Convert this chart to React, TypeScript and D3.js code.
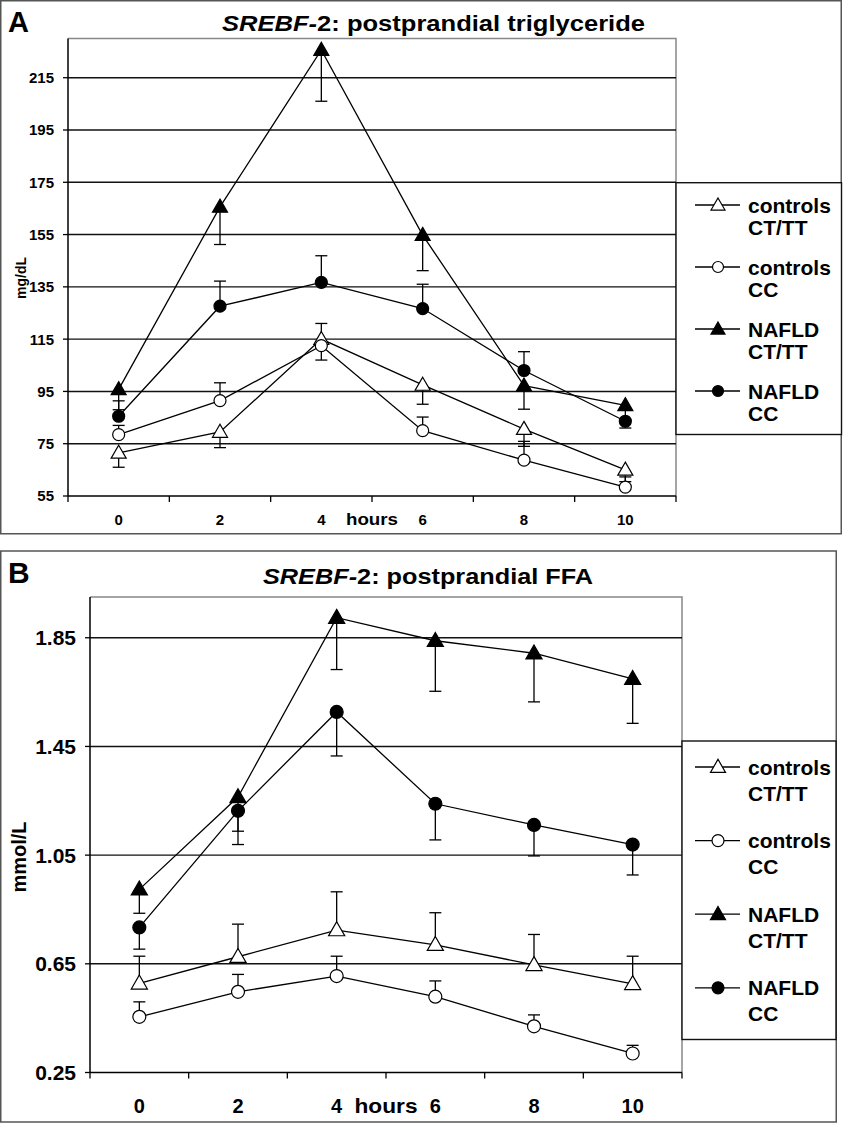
import React from "react";
import * as d3 from "d3";

// ---------- data ----------
const hours = ["0", "2", "4", "6", "8", "10"];

const seriesNames = ["controls CT/TT", "controls CC", "NAFLD CT/TT", "NAFLD CC"];
const legendLine1 = ["controls", "controls", "NAFLD", "NAFLD"];
const legendLine2 = ["CT/TT", "CC", "CT/TT", "CC"];

// Panel A: postprandial triglyceride (mg/dL); error tips = end of the one-sided SE bar
const tgControlsCTTT = [71.5, 79.5, 115, 97.5, 80.6, 65];
const tgControlsCTTTErr = [66, 73.5, 121, 90.1, 74, 60.5];
const tgControlsCC = [78.5, 91.5, 112.5, 80, 68.7, 58.4];
const tgControlsCCErr = [82, 98.3, 107, 85.2, 75.9, 62.3];
const tgNafldCTTT = [95.8, 165.6, 225.6, 154.8, 97.2, 89.7];
const tgNafldCTTTErr = [88, 151.2, 206, 141.2, 88.2, 84];
const tgNafldCC = [85.5, 127.6, 136.7, 126.7, 103, 83.6];
const tgNafldCCErr = [91.4, 137.2, 146.9, 136, 110.2, 81];
const tgTicks = [55, 75, 95, 115, 135, 155, 175, 195, 215];

// Panel B: postprandial FFA (mmol/L)
const ffaControlsCTTT = [0.578, 0.676, 0.774, 0.72, 0.646, 0.576];
const ffaControlsCTTTErr = [0.678, 0.796, 0.915, 0.838, 0.758, 0.678];
const ffaControlsCC = [0.455, 0.547, 0.605, 0.529, 0.42, 0.32];
const ffaControlsCCErr = [0.51, 0.611, 0.678, 0.587, 0.462, 0.35];
const ffaNafldCTTT = [0.924, 1.264, 1.924, 1.839, 1.793, 1.699];
const ffaNafldCTTTErr = [0.836, 1.089, 1.733, 1.653, 1.614, 1.535];
const ffaNafldCC = [0.784, 1.213, 1.577, 1.239, 1.161, 1.089];
const ffaNafldCCErr = [0.704, 1.138, 1.415, 1.106, 1.047, 0.977];
const ffaTicks = [0.25, 0.65, 1.05, 1.45, 1.85];

const markerKinds = ["triangle", "circle", "triangle", "circle"];
const markerFilled = [false, false, true, true];

const FONT = "'Liberation Sans', Arial, Helvetica, sans-serif";

type PanelCfg = {
  letter: string;
  letterY: number;
  letterSize: number;
  titleRest: string;
  titleX: number;
  titleY: number;
  titleSize: number;
  titleLength: number;
  frame: [number, number, number, number];
  plot: { left: number; right: number; top: number; bottom: number };
  domain: [number, number];
  ticks: number[];
  tickFmt: (v: number) => string;
  tickSize: number;
  xTickSize: number;
  xLabelY: number;
  hoursSize: number;
  hoursLength: number;
  yLabel: string;
  yLabelX: number;
  yLabelY: number;
  yLabelSize: number;
  values: number[][];
  errs: number[][];
  legend: { top: number; bottom: number; right: number; firstRow: number; rowGap: number; lineGap: number; size: number };
  markerSize: number;
  circleSize: number;
};

function Marker({ kind, filled, x, y, size }: { kind: string; filled: boolean; x: number; y: number; size: number }) {
  const fill = filled ? "#000" : "#fff";
  if (kind === "circle") {
    return <circle cx={x} cy={y} r={size / 2} fill={fill} stroke="#000" strokeWidth={1.2} />;
  }
  const sym = d3.symbol(d3.symbolTriangle, size * size * 0.5)();
  return <path d={sym as string} transform={`translate(${x},${y + 1})`} fill={fill} stroke="#000" strokeWidth={1.2} />;
}

function Panel({ cfg }: { cfg: PanelCfg }) {
  const { plot } = cfg;
  const x = d3.scalePoint<string>().domain(hours).range([plot.left, plot.right]).padding(0.5);
  const y = d3.scaleLinear().domain(cfg.domain).range([plot.bottom, plot.top]);
  const step = x.step();
  const boundaries = d3.range(hours.length + 1).map((i) => plot.left + i * step);
  const line = d3
    .line<number>()
    .x((_, i) => x(hours[i]) as number)
    .y((v) => y(v));
  const [fx, fy, fw, fh] = cfg.frame;
  const lg = cfg.legend;
  const hoursX = boundaries[3];
  const msize = (s: number) => (markerKinds[s] === "circle" ? cfg.circleSize : cfg.markerSize);
  return (
    <g fontFamily={FONT} fontWeight="bold">
      <rect x={fx} y={fy} width={fw} height={fh} fill="#fff" stroke="#555" strokeWidth={1.5} />
      <text x={8} y={cfg.letterY} fontSize={cfg.letterSize}>{cfg.letter}</text>
      <text
        x={cfg.titleX - cfg.titleLength / 2}
        y={cfg.titleY}
        fontSize={cfg.titleSize}
        textLength={cfg.titleLength}
        lengthAdjust="spacingAndGlyphs"
      >
        <tspan fontStyle="italic">SREBF-</tspan>
        <tspan>2</tspan>
        <tspan>{cfg.titleRest}</tspan>
      </text>
      {/* plot area border (top/right gray) */}
      <path d={`M${plot.left},${plot.top}H${plot.right}V${plot.bottom}`} fill="none" stroke="#888" strokeWidth={1.5} />
      {/* gridlines */}
      {cfg.ticks.slice(1).map((t) => (
        <line key={t} x1={plot.left} x2={plot.right} y1={y(t)} y2={y(t)} stroke="#111" strokeWidth={1.4} />
      ))}
      {/* y axis */}
      <line x1={plot.left} x2={plot.left} y1={plot.top} y2={plot.bottom} stroke="#000" strokeWidth={1.5} />
      {cfg.ticks.map((t) => (
        <g key={"t" + t}>
          <line x1={plot.left - 5} x2={plot.left} y1={y(t)} y2={y(t)} stroke="#000" strokeWidth={1.3} />
          <text x={plot.left - 14} y={y(t)} dy="0.36em" fontSize={cfg.tickSize} textAnchor="end">
            {cfg.tickFmt(t)}
          </text>
        </g>
      ))}
      {/* x axis */}
      <line x1={plot.left} x2={plot.right} y1={plot.bottom} y2={plot.bottom} stroke="#000" strokeWidth={1.5} />
      {boundaries.map((b, i) => (
        <line key={"b" + i} x1={b} x2={b} y1={plot.bottom} y2={plot.bottom + 6} stroke="#000" strokeWidth={1.3} />
      ))}
      {hours.map((h) => (
        <text key={"h" + h} x={x(h)} y={cfg.xLabelY} fontSize={cfg.xTickSize} textAnchor="middle">
          {h}
        </text>
      ))}
      <text
        x={hoursX - cfg.hoursLength / 2}
        y={cfg.xLabelY}
        fontSize={cfg.hoursSize}
        textLength={cfg.hoursLength}
        lengthAdjust="spacingAndGlyphs"
      >
        hours
      </text>
      <text
        transform={`translate(${cfg.yLabelX},${cfg.yLabelY}) rotate(-90)`}
        fontSize={cfg.yLabelSize}
        textAnchor="middle"
      >
        {cfg.yLabel}
      </text>
      {/* error bars */}
      {cfg.values.map((vals, s) =>
        vals.map((v, i) => {
          const cx = x(hours[i]) as number;
          const tip = cfg.errs[s][i];
          return (
            <g key={`e${s}-${i}`} stroke="#000" strokeWidth={1.3}>
              <line x1={cx} x2={cx} y1={y(v)} y2={y(tip)} />
              <line x1={cx - 6} x2={cx + 6} y1={y(tip)} y2={y(tip)} />
            </g>
          );
        })
      )}
      {/* lines */}
      {cfg.values.map((vals, s) => (
        <path key={"l" + s} d={line(vals) as string} fill="none" stroke="#000" strokeWidth={1.3} />
      ))}
      {/* markers */}
      {cfg.values.map((vals, s) =>
        vals.map((v, i) => (
          <Marker
            key={`m${s}-${i}`}
            kind={markerKinds[s]}
            filled={markerFilled[s]}
            x={x(hours[i]) as number}
            y={y(v)}
            size={msize(s)}
          />
        ))
      )}
      {/* legend */}
      <rect
        x={plot.right}
        y={lg.top}
        width={lg.right - plot.right}
        height={lg.bottom - lg.top}
        fill="#fff"
        stroke="#111"
        strokeWidth={1.4}
      />
      {seriesNames.map((name, s) => {
        const ry = lg.firstRow + s * lg.rowGap;
        return (
          <g key={name}>
            <line x1={695} x2={740} y1={ry} y2={ry} stroke="#000" strokeWidth={1.3} />
            <Marker kind={markerKinds[s]} filled={markerFilled[s]} x={718} y={ry} size={msize(s) - 1} />
            <text x={748} y={ry} dy="0.36em" fontSize={lg.size}>{legendLine1[s]}</text>
            <text x={748} y={ry + lg.lineGap} dy="0.36em" fontSize={lg.size}>{legendLine2[s]}</text>
          </g>
        );
      })}
    </g>
  );
}

const panelA: PanelCfg = {
  letter: "A",
  letterY: 32,
  letterSize: 29,
  titleRest: ":  postprandial triglyceride",
  titleX: 433.5,
  titleY: 31,
  titleSize: 22,
  titleLength: 423,
  frame: [0.75, 0.75, 840.5, 533],
  plot: { left: 68, right: 676, top: 38.5, bottom: 496 },
  domain: [55, 230],
  ticks: tgTicks,
  tickFmt: (v) => String(v),
  tickSize: 15,
  xTickSize: 15,
  xLabelY: 525,
  hoursSize: 16,
  hoursLength: 52,
  yLabel: "mg/dL",
  yLabelX: 26,
  yLabelY: 278,
  yLabelSize: 14,
  values: [tgControlsCTTT, tgControlsCC, tgNafldCTTT, tgNafldCC],
  errs: [tgControlsCTTTErr, tgControlsCCErr, tgNafldCTTTErr, tgNafldCCErr],
  legend: { top: 182.7, bottom: 434.5, right: 841.5, firstRow: 205, rowGap: 62, lineGap: 22, size: 21 },
  markerSize: 14,
  circleSize: 12,
};

const panelB: PanelCfg = {
  letter: "B",
  letterY: 583,
  letterSize: 30,
  titleRest: ":  postprandial FFA",
  titleX: 428,
  titleY: 584,
  titleSize: 22,
  titleLength: 330,
  frame: [0.75, 551, 835.5, 571],
  plot: { left: 90, right: 682, top: 597, bottom: 1072.5 },
  domain: [0.25, 2.0],
  ticks: ffaTicks,
  tickFmt: (v) => v.toFixed(2),
  tickSize: 21,
  xTickSize: 20,
  xLabelY: 1113,
  hoursSize: 21,
  hoursLength: 63,
  yLabel: "mmol/L",
  yLabelX: 26,
  yLabelY: 857,
  yLabelSize: 20,
  values: [ffaControlsCTTT, ffaControlsCC, ffaNafldCTTT, ffaNafldCC],
  errs: [ffaControlsCTTTErr, ffaControlsCCErr, ffaNafldCTTTErr, ffaNafldCCErr],
  legend: { top: 741, bottom: 1039.5, right: 836, firstRow: 767, rowGap: 73.6, lineGap: 26, size: 21 },
  markerSize: 15,
  circleSize: 13,
};

export default function App() {
  return (
    <svg width={843} height={1124} style={{ position: "absolute", left: 0, top: 0, background: "#fff" }}>
      <rect width={843} height={1124} fill="#fff" />
      <Panel cfg={panelA} />
      <Panel cfg={panelB} />
    </svg>
  );
}
